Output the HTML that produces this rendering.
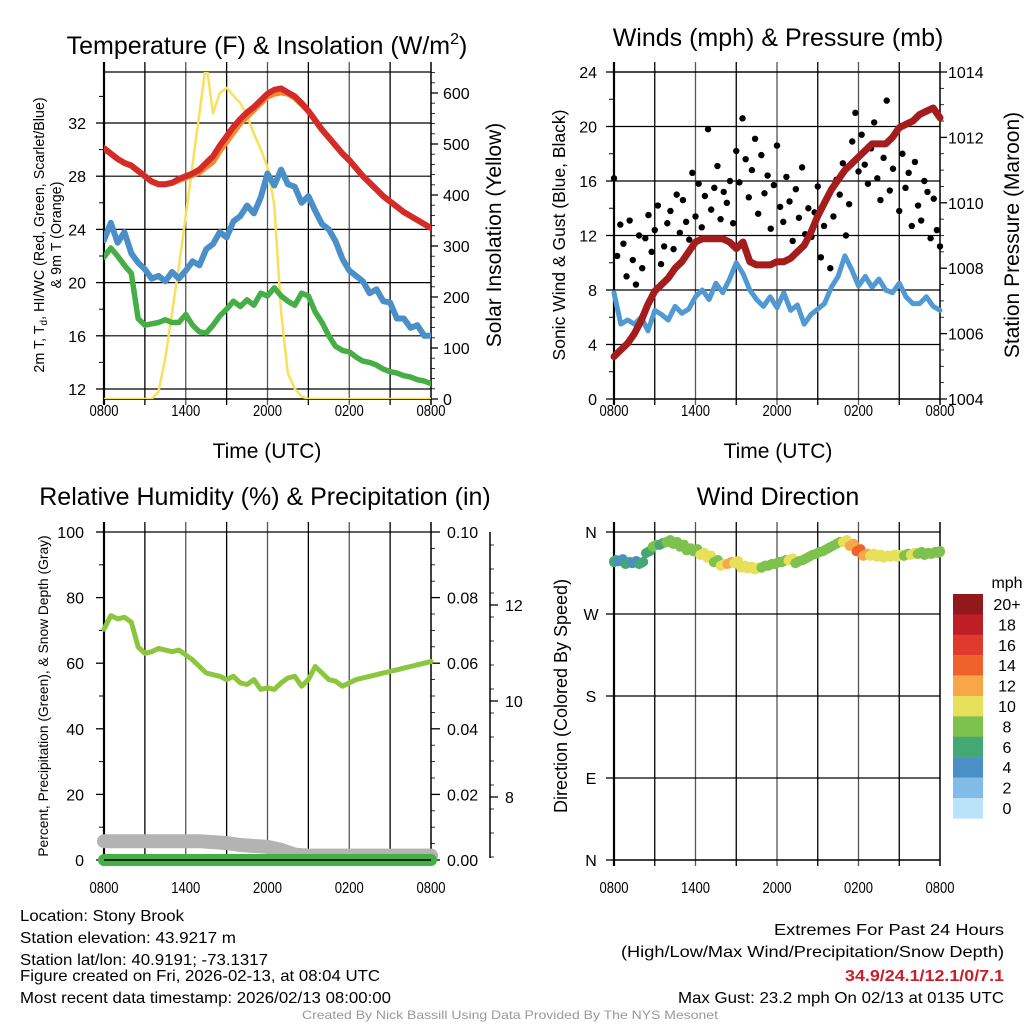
<!DOCTYPE html>
<html><head><meta charset="utf-8"><style>
html,body{margin:0;padding:0;background:#fff;}
svg{display:block;font-family:"Liberation Sans",sans-serif;}
</style></head><body>
<svg id="c" width="1024" height="1024" viewBox="0 0 1024 1024" xmlns="http://www.w3.org/2000/svg"></svg>
<script>
// ---- data (half-hourly, 0800 UTC -> 0800 UTC) ----
const hoursLabels = ["0800","1400","2000","0200","0800"];
const tempRed = [30.1,29.7,29.3,29.0,28.8,28.4,28.0,27.6,27.4,27.4,27.5,27.8,28.0,28.2,28.5,29.0,29.5,30.3,31.0,31.7,32.3,32.8,33.2,33.7,34.2,34.5,34.6,34.3,34.0,33.5,32.9,32.2,31.5,30.9,30.3,29.7,29.2,28.6,28.0,27.5,27.0,26.5,26.1,25.7,25.3,25.0,24.7,24.4,24.1];
const temp9m = [30.1,29.7,29.3,29.0,28.8,28.4,28.0,27.6,27.4,27.4,27.5,27.7,27.9,28.1,28.3,28.7,29.1,29.9,30.6,31.3,32.0,32.5,33.0,33.5,34.0,34.2,34.3,34.2,33.9,33.4,32.9,32.2,31.5,30.9,30.3,29.7,29.2,28.6,28.0,27.5,27.0,26.5,26.1,25.7,25.3,25.0,24.7,24.4,24.1];
const dewBlue = [23.2,24.5,23.0,23.8,22.2,21.5,21.0,20.3,20.5,20.1,20.8,20.3,20.9,21.6,21.3,22.5,22.9,23.8,23.4,24.6,25.0,25.8,25.2,26.4,28.2,27.3,28.5,27.4,27.2,26.0,26.5,25.4,24.4,24.0,23.1,21.8,20.9,20.5,20.1,19.2,19.5,18.6,18.5,17.3,17.3,16.6,16.8,16.0,16.0];
const chillGreen = [21.9,22.6,22.0,21.3,20.7,17.3,16.8,16.9,17.0,17.2,17.0,17.0,17.6,16.8,16.3,16.2,16.8,17.5,18.0,18.6,18.2,18.7,18.3,19.2,19.0,19.6,19.0,18.6,18.3,19.2,19.0,17.8,17.0,16.0,15.2,14.9,14.8,14.4,14.1,14.0,13.8,13.5,13.3,13.2,13.0,12.9,12.7,12.6,12.4];
const solar = [0,0,0,0,0,0,0,0,15,80,170,260,360,460,560,660,560,600,610,595,580,555,520,490,455,380,170,50,20,5,0,0,0,0,0,0,0,0,0,0,0,0,0,0,0,0,0,0,0];
const sonicWind = [7.8,5.5,5.8,5.5,6.0,5.0,6.5,6.2,5.8,6.8,6.3,6.6,7.5,8.0,7.3,8.5,7.8,8.8,10.0,9.2,8.0,7.3,6.8,7.5,6.7,7.8,6.5,6.9,5.5,6.2,6.6,7.0,8.2,9.0,10.5,9.5,8.3,9.0,8.2,8.8,8.0,7.8,8.5,7.5,7.0,7.0,7.5,6.8,6.5];
const pressure = [1005.3,1005.5,1005.7,1006.0,1006.4,1006.9,1007.3,1007.5,1007.7,1008.0,1008.2,1008.5,1008.8,1008.9,1008.9,1008.9,1008.9,1008.8,1008.6,1008.8,1008.2,1008.1,1008.1,1008.1,1008.2,1008.2,1008.3,1008.5,1008.7,1009.1,1009.6,1010.0,1010.4,1010.7,1011.0,1011.2,1011.4,1011.6,1011.8,1011.8,1011.8,1012.0,1012.3,1012.4,1012.5,1012.7,1012.8,1012.9,1012.6];
const gust = [16.2,10.5,12.8,11.4,9.0,13.1,10.2,8.4,12.0,9.6,11.8,13.5,10.8,12.4,14.2,9.9,11.2,12.9,13.8,11.0,15.0,12.2,14.6,13.0,11.7,16.6,13.4,15.8,12.6,14.9,19.8,13.9,15.5,17.1,13.2,15.2,14.4,16.0,12.9,18.2,15.9,20.6,17.6,14.8,16.8,19.1,13.6,17.9,15.1,16.4,12.5,15.7,18.6,14.1,13.0,16.3,14.5,11.6,15.4,13.3,17.0,12.1,14.0,11.9,13.7,15.6,10.4,12.7,14.8,9.6,13.4,16.1,15.0,17.3,12.0,14.3,18.9,21.0,16.7,19.4,17.2,15.8,18.4,20.3,16.2,14.6,17.7,21.9,15.3,16.9,19.6,13.8,18.0,15.5,16.6,12.7,17.4,14.2,13.1,16.0,15.2,11.8,14.7,12.4,11.2];
const rh = [70.4,74.5,73.5,74.0,72.5,65.0,63.0,63.5,64.5,64.0,63.5,64.0,62.5,61.0,59.0,57.0,56.5,56.0,55.0,56.0,54.0,53.5,55.0,52.0,52.5,52.0,54.0,55.5,56.0,53.0,55.0,59.0,57.0,55.0,54.5,53.0,54.0,55.0,55.5,56.0,56.5,57.0,57.5,58.0,58.5,59.0,59.5,60.0,60.5];
const snowDepth = [7.08,7.08,7.08,7.08,7.08,7.08,7.08,7.08,7.06,7.04,7.0,6.98,6.96,6.9,6.8,6.78,6.78,6.78,6.78,6.78,6.78,6.78,6.78,6.78,6.78];
const precip = [0,0,0,0,0,0,0,0,0,0,0,0,0,0,0,0,0,0,0,0,0,0,0,0,0];
const windDir = [328,329,326,327,326,338,345,347,350,348,345,341,340,336,333,328,324,326,327,322,321,320,322,324,326,328,330,327,330,334,337,340,344,348,350,346,340,335,335,334,333,334,334,335,336,337,336,337,338];
const dirSpeed = [5,4,5,4,6,6,7,6,7,7,7,8,8,9,10,8,10,12,9,10,9,10,8,7,8,8,9,7,7,7,7,8,7,8,9,12,13,11,10,9,10,9,10,8,9,8,7,8,7];
const cbLabels = ["20+","18","16","14","12","10","8","6","4","2","0"];
const cbColors = ["#92181c","#be1e26","#df3a2b","#f0622b","#f7a748","#e6e05a","#7cc24c","#45a874","#4a8fc6","#80bce6","#b9e3f8"];

const NS="http://www.w3.org/2000/svg";
const svg=document.getElementById('c');
function el(tag,attrs,parent,text){const e=document.createElementNS(NS,tag);for(const k in attrs)e.setAttribute(k,attrs[k]);if(text!==undefined)e.textContent=text;(parent||svg).appendChild(e);return e;}
function lin(d0,d1,r0,r1){return v=>r0+(v-d0)/(d1-d0)*(r1-r0);}
function path(pts){return pts.map((p,i)=>(i?'L':'M')+p[0].toFixed(1)+','+p[1].toFixed(1)).join('');}

function frame(x0,y0,x1,y1,name,hgrid){
  const g=el('g',{});
  
  
  for(let i=1;i<8;i++){const x=x0+(x1-x0)*i/8;el('line',{x1:x,y1:y0-10,x2:x,y2:y1+6,stroke:i%2?'#000':'#555','stroke-width':1.3},g);}
  hgrid.forEach(y=>el('line',{x1:x0,y1:y,x2:x1,y2:y,stroke:'#000','stroke-width':1.2},g));
  el('line',{x1:x0,y1:y0,x2:x1,y2:y0,stroke:'#000','stroke-width':1.3},g);
  el('line',{x1:x0,y1:y1,x2:x1,y2:y1,stroke:'#000','stroke-width':1.5},g);
  el('line',{x1:x0,y1:y0-10,x2:x0,y2:y1+6,stroke:'#000','stroke-width':2.2},g);
  el('line',{x1:x1,y1:y0-10,x2:x1,y2:y1+6,stroke:'#000','stroke-width':1.5},g);
  return g;
}
function xlabels(x0,x1,y,name){
  const g=el('g',{});
  hoursLabels.forEach((t,i)=>el('text',{x:x0+(x1-x0)*i/4,y:y,'font-size':16,'text-anchor':'middle',textLength:29,lengthAdjust:'spacingAndGlyphs'},g,t));
}
function title(x,y,t,name,size){const e=el('text',{x:x,y:y,'font-size':size||25,'text-anchor':'middle'},svg,t);return e;}
function vtitle(x,y,t,name,size){const e=el('text',{x:0,y:0,'font-size':size||21,'text-anchor':'middle',transform:`translate(${x},${y}) rotate(-90)`},svg,t);return e;}
function line(data,fx,fy,color,w,name,dx){
  const p=el('path',{d:path(data.map((v,i)=>[fx(i*dx),fy(v)])),fill:'none',stroke:color,'stroke-width':w,'stroke-linejoin':'round','stroke-linecap':'round'});
  return p;
}

// ---------- Panel 1 ----------
{
const X0=104,X1=431,Y0=72,Y1=399;
const fx=lin(0,24,X0,X1), fy=lin(12,32,389,123), fs=lin(0,600,399,93);
frame(X0,Y0,X1,Y1,'temperature-plot-frame',[12,16,20,24,28,32].map(fy));
const cp=el('clipPath',{id:'cp1'});el('rect',{x:X0,y:Y0,width:X1-X0,height:Y1-Y0},cp);
[12,16,20,24,28,32].forEach(v=>{el('line',{x1:X0-8,y1:fy(v),x2:X0,y2:fy(v),stroke:'#000','stroke-width':1.3});el('text',{x:X0-18,y:fy(v)+6,'font-size':16,'text-anchor':'end'},svg,v);});
[14,18,22,26,30,34].forEach(v=>el('line',{x1:X0-5,y1:fy(v),x2:X0,y2:fy(v),stroke:'#000'}));
for(let v=0;v<=640;v+=20){const mj=v%100===0;el('line',{x1:X1,y1:fs(v),x2:X1+(mj?7:4),y2:fs(v),stroke:'#000','stroke-width':mj?1.3:0.8});if(mj)el('text',{x:X1+12,y:fs(v)+6,'font-size':16},svg,v);}
const g=el('g',{'clip-path':'url(#cp1)'});
const lines=[[solar,null,'#f8e15a',2.5,'solar-insolation-line'],[chillGreen,fy,'#46ae46',5.5,'wind-chill-line'],[dewBlue,fy,'#4a8fc8',6,'dewpoint-line'],[temp9m,fy,'#f58a2a',6,'temp-9m-line'],[tempRed,fy,'#d42a28',6,'temp-2m-line']];
lines.forEach(L=>{const p=line(L[0],fx,L[1]||fs,L[2],L[3],L[4],0.5);g.appendChild(p);});
xlabels(X0,X1,416,'temperature-x-ticks');
title(267,54,'','temperature-title').innerHTML='Temperature (F) &amp; Insolation (W/m<tspan font-size="16" dy="-10">2</tspan><tspan dy="10">)</tspan>';
title(267,458,'Time (UTC)','temperature-x-title',21);
vtitle(44,235,'2m T, Td, HI/WC (Red, Green, Scarlet/Blue)','temperature-y-title',14.3).innerHTML='2m T, T<tspan font-size="10" dy="3">d</tspan><tspan dy="-3">, HI/WC (Red, Green, Scarlet/Blue)</tspan>';
vtitle(61,235,'& 9m T (Orange)','temperature-y-title-2',14.3);
vtitle(501,235,'Solar Insolation (Yellow)','solar-y-title',21);
}

// ---------- Panel 2 ----------
{
const X0=614,X1=940,Y0=72,Y1=399;
const fx=lin(0,24,X0,X1), fy=lin(0,24,399,72), fp=lin(1004,1014,399,72);
frame(X0,Y0,X1,Y1,'winds-plot-frame',[4,8,12,16,20,24].map(fy));
[0,4,8,12,16,20,24].forEach(v=>{el('line',{x1:X0-8,y1:fy(v),x2:X0,y2:fy(v),stroke:'#000','stroke-width':1.3});el('text',{x:X0-17,y:fy(v)+6,'font-size':16,'text-anchor':'end'},svg,v);});
[2,6,10,14,18,22].forEach(v=>el('line',{x1:X0-5,y1:fy(v),x2:X0,y2:fy(v),stroke:'#000'}));
for(let v=1004;v<=1014;v+=0.5){const mj=v%2===0;el('line',{x1:X1,y1:fp(v),x2:X1+(mj?7:4),y2:fp(v),stroke:'#000','stroke-width':mj?1.3:0.8});if(mj)el('text',{x:X1+8,y:fp(v)+6,'font-size':16},svg,v);}
line(sonicWind,fx,fy,'#5199d2',5,'sonic-wind-line',0.5);
const gg=el('g',{});
const step=24/(gust.length-1);
gust.forEach((v,i)=>{const c=el('circle',{cx:fx(i*step),cy:fy(v),r:3.2,fill:'#000'},gg);});
line(pressure,fx,fp,'#a51c1c',7,'pressure-line',0.5);
xlabels(X0,X1,416,'winds-x-ticks');
title(778,46,'Winds (mph) & Pressure (mb)','winds-title');
title(778,458,'Time (UTC)','winds-x-title',21);
vtitle(565,235,'Sonic Wind & Gust (Blue, Black)','wind-y-title',17.5);
vtitle(1019,235,'Station Pressure (Maroon)','pressure-y-title',21);
}

// ---------- Panel 3 ----------
{
const X0=104,X1=431,Y0=532,Y1=860;
const fx=lin(0,24,X0,X1), fy=lin(0,100,860,532), fsn=lin(8,10,797,701);
frame(X0,Y0,X1,Y1,'humidity-plot-frame',[]);
[0,20,40,60,80,100].forEach(v=>{el('line',{x1:X0-8,y1:fy(v),x2:X0,y2:fy(v),stroke:'#000','stroke-width':1.3});el('text',{x:X0-20,y:fy(v)+6,'font-size':16,'text-anchor':'end'},svg,v);});
[10,30,50,70,90].forEach(v=>el('line',{x1:X0-5,y1:fy(v),x2:X0,y2:fy(v),stroke:'#000'}));
for(let v=0;v<=100;v+=5){const mj=v%20===0;el('line',{x1:X1,y1:fy(v),x2:X1+(mj?9:4),y2:fy(v),stroke:'#000','stroke-width':mj?1.3:0.8});if(mj)el('text',{x:X1+16,y:fy(v)+6,'font-size':16},svg,(v/1000).toFixed(2));}
el('line',{x1:490,y1:532,x2:490,y2:858,stroke:'#000','stroke-width':1.5});
for(let v=6.75;v<=13.6;v+=0.5){const y=fsn(v);if(y<532||y>858)continue;el('line',{x1:490,y1:y,x2:494,y2:y,stroke:'#000','stroke-width':0.8});}
[8,10,12].forEach(v=>{el('line',{x1:490,y1:fsn(v),x2:498,y2:fsn(v),stroke:'#000','stroke-width':1.3});el('text',{x:505,y:fsn(v)+6,'font-size':16},svg,v);});
line(snowDepth,fx,fsn,'#b3b3b3',14,'snow-depth-line',1);
line(precip,v=>fx(v),v=>fy(v*1000),'#46ae46',12,'precip-line',1);
el('line',{x1:X0,y1:Y1,x2:X1,y2:Y1,stroke:'#000','stroke-width':1.5});
line(rh,fx,fy,'#8cc63f',5,'rh-line',0.5);
xlabels(X0,X1,893,'humidity-x-ticks');
title(265,505,'Relative Humidity (%) & Precipitation (in)','humidity-title');
vtitle(48,696,'Percent, Precipitation (Green), & Snow Depth (Gray)','humidity-y-title',13.8);
}

// ---------- Panel 4 ----------
{
const X0=614,X1=940,Y0=532,Y1=860;
const fx=lin(0,24,X0,X1), fy=lin(0,360,860,532);
frame(X0,Y0,X1,Y1,'direction-plot-frame',[90,180,270].map(fy));
[['N',360],['W',270],['S',180],['E',90],['N',0]].forEach(a=>{el('line',{x1:X0-8,y1:fy(a[1]),x2:X0,y2:fy(a[1]),stroke:'#000','stroke-width':1.3});el('text',{x:591,y:fy(a[1])+6,'font-size':16,'text-anchor':'middle'},svg,a[0]);});
const dg=el('g',{});
const step=24/(windDir.length-1);
windDir.forEach((d,i)=>{const s=dirSpeed[i];const idx=Math.max(0,Math.min(10,10-Math.round(s/2)));
  [-0.15,0,0.15].forEach(o=>{const c=el('circle',{cx:fx(Math.min(24,Math.max(0,i*step+o))),cy:fy(d+o*8),r:5,fill:cbColors[idx]},dg);});});
xlabels(X0,X1,893,'direction-x-ticks');
title(778,505,'Wind Direction','direction-title');
vtitle(567,696,'Direction (Colored By Speed)','direction-y-title',18);
const cb=el('g',{});
el('text',{x:1007,y:588,'font-size':16,'text-anchor':'middle'},cb,'mph');
cbColors.forEach((c,i)=>{const y=594+i*20.4;const r=el('rect',{x:953,y:y,width:30,height:20.6,fill:c},cb);el('text',{x:1007,y:y+16,'font-size':16,'text-anchor':'middle'},cb,cbLabels[i]);});
}

// ---------- Footer text ----------
const info=el('g',{});
[['Location: Stony Brook',921,164],['Station elevation: 43.9217 m',943,216],['Station lat/lon: 40.9191; -73.1317',965,248],['Figure created on Fri, 2026-02-13, at 08:04 UTC',981,360],['Most recent data timestamp: 2026/02/13 08:00:00',1003,371]].forEach(l=>el('text',{x:20,y:l[1],'font-size':16,textLength:l[2],lengthAdjust:'spacingAndGlyphs'},info,l[0]));
const ex=el('g',{});
el('text',{x:1004,y:935,'font-size':16,'text-anchor':'end',textLength:230,lengthAdjust:'spacingAndGlyphs'},ex,'Extremes For Past 24 Hours');
el('text',{x:1004,y:957,'font-size':16,'text-anchor':'end',textLength:383,lengthAdjust:'spacingAndGlyphs'},ex,'(High/Low/Max Wind/Precipitation/Snow Depth)');
el('text',{x:1004,y:981,'font-size':16,'font-weight':'bold',fill:'#c8202a','text-anchor':'end',textLength:159,lengthAdjust:'spacingAndGlyphs'},ex,'34.9/24.1/12.1/0/7.1');
el('text',{x:1004,y:1003,'font-size':16,'text-anchor':'end',textLength:326,lengthAdjust:'spacingAndGlyphs'},ex,'Max Gust: 23.2 mph On 02/13 at 0135 UTC');
const cr=el('text',{x:510,y:1019,'font-size':12,fill:'#999','text-anchor':'middle',textLength:416,lengthAdjust:'spacingAndGlyphs'},svg,'Created By Nick Bassill Using Data Provided By The NYS Mesonet');


</script>
</body></html>
